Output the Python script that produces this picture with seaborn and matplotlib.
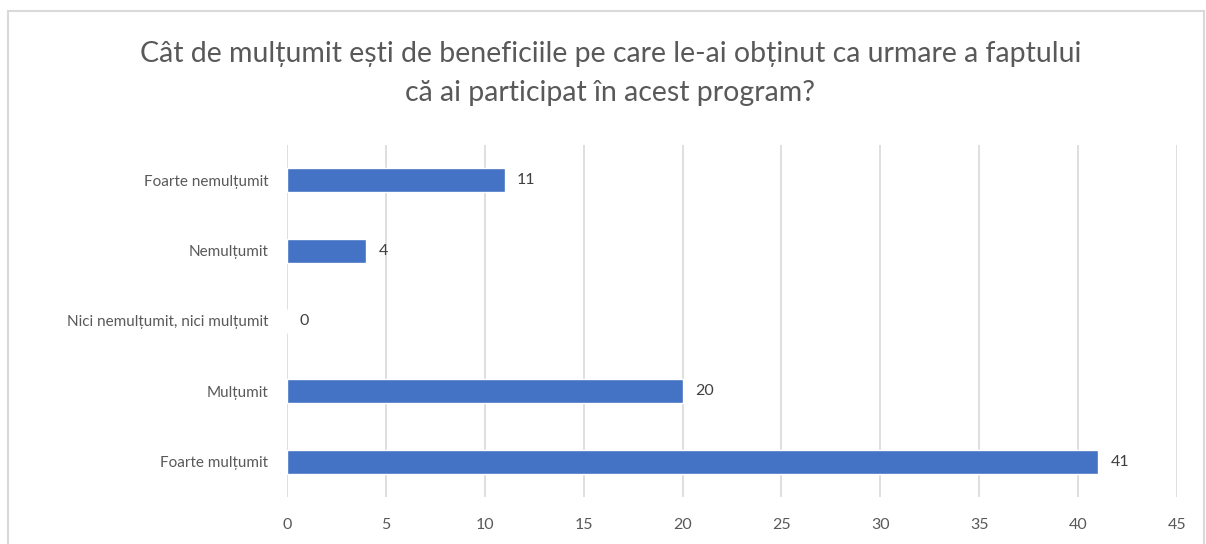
import matplotlib
matplotlib.use("Agg")
import matplotlib.pyplot as plt
import seaborn as sns
import pandas as pd
from matplotlib.patches import Rectangle

categories = ["Foarte nemulțumit", "Nemulțumit", "Nici nemulțumit, nici mulțumit", "Mulțumit", "Foarte mulțumit"]
values = [11, 4, 0, 20, 41]
x_ticks = [0, 5, 10, 15, 20, 25, 30, 35, 40, 45]
title = "Cât de mulțumit ești de beneficiile pe care le-ai obținut ca urmare a faptului\ncă ai participat în acest program?"

sns.set_theme(style="white")
plt.rcParams['font.family'] = ['Lato', 'DejaVu Sans']

df = pd.DataFrame({"cat": categories, "val": values})

fig = plt.figure(figsize=(12.06, 5.44), dpi=100)
ax = fig.add_axes([0.238, 0.0864, 0.976 - 0.238, 0.7335 - 0.0864])

sns.barplot(data=df, y="cat", x="val", order=categories, color="#4472C4",
            width=0.34, saturation=1, ax=ax)

ax.set_xlim(0, 45)
ax.set_ylim(4.5, -0.5)
ax.set_xticks(x_ticks)
ax.set_xlabel("")
ax.set_ylabel("")
for s in ax.spines.values():
    s.set_visible(False)
ax.grid(axis="x", color="#D9D9D9", linewidth=1.2)
ax.set_axisbelow(True)
ax.tick_params(axis="y", length=0, pad=13.5, labelsize=11, labelcolor="#595959")
ax.tick_params(axis="x", length=0, pad=15, labelsize=11.5, labelcolor="#595959")

for i, v in enumerate(values):
    ax.annotate(str(v), xy=(v, i), xytext=(9, 0), textcoords="offset points",
                va="center", ha="left", fontsize=11.5, color="#404040")

fig.text(0.506, 0.865, title, ha="center", va="center", fontsize=20.5,
         color="#595959", linespacing=1.65)

fig.patches.append(Rectangle((8 / 1206, -0.05), (1204 - 8) / 1206, 1 - 11 / 544 + 0.05,
                             transform=fig.transFigure, fill=False,
                             edgecolor="#D9D9D9", linewidth=1.5))

fig.savefig("out.png", dpi=100, facecolor="white")
